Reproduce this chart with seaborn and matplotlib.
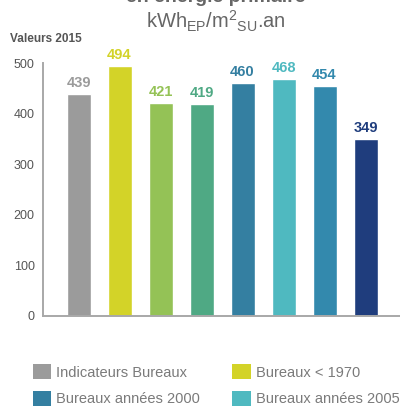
import matplotlib
matplotlib.use("Agg")
import matplotlib.pyplot as plt
from matplotlib.patches import Patch
import seaborn as sns
import pandas as pd

# Donnees (valeurs 2015, kWhEP/m2SU.an)
categories = ["Indicateurs Bureaux", "Bureaux < 1970", "Bureaux cat. 3", "Bureaux cat. 4",
              "Bureaux années 2000", "Bureaux années 2005", "Bureaux cat. 7", "Bureaux cat. 8"]
valeurs = [439, 494, 421, 419, 460, 468, 454, 349]
couleurs = ["#9b9b9b", "#d3d328", "#94c256", "#4fa984", "#347fa1", "#4fb9c0", "#3389ad", "#1f3d7d"]
legende_visible = ["Indicateurs Bureaux", "Bureaux années 2000", "Bureaux < 1970", "Bureaux années 2005"]

df = pd.DataFrame({"categorie": categories, "valeur": valeurs})

sns.set_style("white")
plt.rcParams["font.family"] = ["Liberation Sans", "DejaVu Sans"]

fig = plt.figure(figsize=(4, 4.07), dpi=100)
ax = fig.add_axes([43 / 400, 91 / 407, 357 / 400, 253 / 407])

sns.barplot(data=df, x="categorie", y="valeur", hue="categorie", palette=couleurs,
            legend=False, width=0.585, saturation=1, ax=ax)

ax.set_ylim(0, 500)
ax.set_xlim(-0.866, 7.84)
ax.set_yticks([0, 100, 200, 300, 400, 500])
ax.set_xticks([])
ax.set_xlabel("")
ax.set_ylabel("")

for side in ["top", "right"]:
    ax.spines[side].set_visible(False)
for side in ["left", "bottom"]:
    ax.spines[side].set_color("#a8a8a8")
    ax.spines[side].set_linewidth(1.4)

ax.tick_params(axis="y", direction="in", length=9, width=1.2, color="#a8a8a8",
               pad=6, labelsize=9, labelcolor="#555555")

# etiquettes de valeurs au-dessus des barres
for cont, c in zip(ax.containers, couleurs):
    ax.bar_label(cont, padding=3, color=c, fontsize=10.5, fontweight="bold")

# textes du haut (la premiere ligne est coupee par le bord, comme dans l'original)
fig.text(0.54, 1 - 2 / 407, "en énergie primaire", ha="center", va="baseline",
         fontsize=14, fontweight="bold", color="#666666")
fig.text(0.54, 1 - 29 / 407,
         r"kWh$_{\mathregular{EP}}$/m$^{\mathregular{2}}$$_{\mathregular{SU}}$.an",
         ha="center", va="baseline", fontsize=14.5, color="#666666")
fig.text(10 / 400, 1 - 42 / 407, "Valeurs 2015", ha="left", va="baseline",
         fontsize=8.5, fontweight="bold", color="#555555")

# legende (seules les entrees visibles)
handles = [Patch(facecolor=couleurs[categories.index(n)], edgecolor="none") for n in legende_visible]
fig.legend(handles, legende_visible, ncols=2, loc="upper left",
           bbox_to_anchor=(33 / 400, 1 - 364 / 407), frameon=False,
           fontsize=10.5, labelcolor="#7a7a7a", handlelength=1.25, handleheight=1.25,
           handletextpad=0.35, columnspacing=2.2, labelspacing=0.75,
           borderpad=0, borderaxespad=0)

fig.savefig("out.png", dpi=100)
